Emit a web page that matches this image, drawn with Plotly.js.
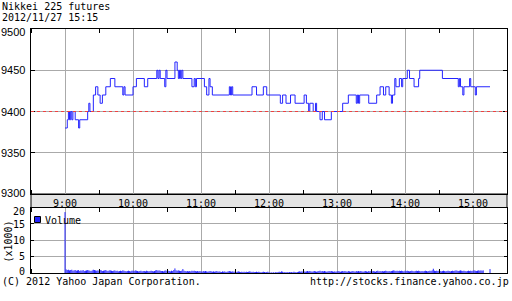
<!DOCTYPE html>
<html><head><meta charset="utf-8">
<script src="https://cdn.plot.ly/plotly-3.0.1.min.js"></script>
<style>html,body{margin:0;padding:0;background:#fff}#chart{width:512px;height:301px}</style>
</head><body><div id="chart"></div>
<script>
const tradeDate = "2012-11-27";
const titleText = "Nikkei 225 futures";
const stampText = "2012/11/27 15:15";

// price change points (step line)
const priceTimes = ["09:00","09:02","09:03","09:04","09:05","09:06","09:07","09:09","09:12","09:13",
 "09:20","09:21","09:22","09:25","09:27","09:29","09:31","09:33","09:36","09:40",
 "09:44","09:51","09:52","09:53","10:00","10:03","10:10","10:13","10:21","10:22",
 "10:23","10:24","10:28","10:29","10:30","10:37","10:39","10:40","10:41","10:42",
 "10:43","10:44","10:52","10:54","10:55","10:56","11:03","11:05","11:07","11:08",
 "11:10","11:25","11:26","11:27","11:28","11:45","11:49","11:55","11:58","12:10",
 "12:12","12:15","12:19","12:23","12:31","12:33","12:35","12:36","12:39","12:41",
 "12:42","12:45","12:47","12:49","12:55","13:05","13:10","13:17","13:18","13:19",
 "13:20","13:28","13:35","13:38","13:41","13:43","13:46","13:48","13:49","13:51",
 "13:52","13:55","13:57","13:58","14:02","14:04","14:08","14:12","14:13","14:33",
 "14:47","14:48","14:49","14:51","14:52","14:57","14:58","15:02","15:03","15:15"];
const prices = [9380,9390,9400,9390,9400,9390,9400,9390,9380,9390,
 9400,9410,9400,9420,9430,9420,9410,9420,9430,9440,
 9430,9420,9430,9420,9430,9440,9430,9440,9450,9440,
 9450,9440,9430,9450,9440,9460,9450,9440,9450,9440,
 9450,9440,9430,9440,9430,9440,9430,9420,9440,9430,
 9420,9430,9420,9430,9420,9430,9420,9430,9420,9410,
 9420,9410,9420,9410,9420,9410,9400,9410,9400,9410,
 9400,9390,9400,9390,9400,9410,9420,9410,9420,9410,
 9420,9410,9420,9430,9420,9430,9420,9410,9420,9440,
 9430,9440,9430,9440,9450,9440,9430,9440,9450,9440,
 9430,9440,9430,9420,9430,9440,9430,9420,9430,9430];
const prevClose = 9400;

// volume (x1000) per minute starting 09:00
const volumes = [
 18.6,1.1,0.9,1.0,0.8,0.9,1.0,0.7,0.8,0.9,
 0.7,0.8,0.9,0.6,0.8,0.7,0.9,0.6,0.7,0.8,
 0.9,0.8,0.7,0.6,0.8,1.0,0.9,0.8,0.7,0.8,
 0.7,0.9,0.8,0.6,0.7,0.8,0.9,0.7,0.6,0.8,
 0.8,0.7,0.6,0.7,0.8,0.6,0.7,0.5,0.6,0.7,
 0.6,0.8,0.7,0.6,0.5,0.6,0.7,0.6,0.5,0.7,
 0.7,0.6,0.8,0.7,0.6,0.5,0.6,0.7,0.5,0.6,
 0.6,0.5,0.7,0.6,0.5,0.6,0.7,0.6,0.5,0.6,
 0.8,0.9,0.7,0.8,0.7,0.6,0.6,0.5,0.7,0.8,
 0.6,0.7,0.6,0.5,0.7,0.6,0.9,1.4,0.8,0.7,
 0.8,0.7,0.6,0.7,1.2,0.7,0.6,0.5,0.6,0.5,
 0.6,0.5,0.7,0.6,0.7,0.6,0.5,0.6,0.5,0.6,
 0.5,0.4,0.6,0.5,0.6,0.5,0.4,0.5,0.6,0.5,
 0.4,0.5,0.4,0.5,0.6,0.4,0.5,0.4,0.3,0.5,
 0.4,0.5,0.3,0.4,0.5,0.6,0.5,0.4,0.5,0.4,
 0.4,0.3,0.4,0.5,0.4,0.3,0.4,0.3,0.4,0.3,
 0.4,0.3,0.4,0.5,0.4,0.3,0.4,0.3,0.3,0.4,
 0.3,0.4,0.3,0.2,0.3,0.4,0.3,0.2,0.3,0.4,
 0.2,0.1,0.2,0.1,0.2,0.1,0.3,0.2,0.3,0.4,
 0.3,0.5,0.4,0.2,0.3,0.2,0.3,0.2,0.3,0.2,
 0.3,0.2,0.4,0.3,0.2,0.3,0.4,0.5,0.4,0.5,
 0.4,0.5,0.4,0.5,0.6,0.5,0.6,0.5,0.4,0.5,
 0.6,0.5,0.4,0.5,0.6,0.7,0.5,0.6,0.5,0.6,
 0.5,0.4,0.5,0.6,0.5,0.6,0.5,0.4,0.5,0.4,
 0.5,0.6,0.5,0.4,0.5,0.6,0.5,0.6,0.5,0.4,
 0.6,0.5,0.4,0.5,0.6,0.5,0.4,0.6,0.5,0.6,
 0.5,0.6,0.5,0.4,0.5,0.6,0.5,0.4,0.6,0.5,
 0.6,0.5,0.6,0.5,0.4,0.6,0.7,0.5,0.6,0.5,
 0.6,0.5,0.6,0.7,0.6,0.5,0.6,0.5,0.6,0.7,
 0.8,0.7,0.6,0.7,0.6,0.7,0.6,0.7,0.6,0.5,
 0.7,0.6,0.7,0.6,0.5,0.6,0.7,0.6,0.5,0.6,
 0.7,0.6,0.7,0.6,0.5,0.6,0.5,0.6,0.7,0.6,
 0.5,0.6,0.7,0.6,0.8,1.3,0.7,0.6,0.7,0.6,
 0.7,0.6,0.5,0.6,0.7,0.6,0.5,0.6,0.7,0.6,
 0.5,0.6,0.7,0.6,0.7,0.8,0.7,0.6,0.7,0.8,
 0.7,0.6,0.7,0.6,0.5,0.6,0.7,0.6,0.7,0.6,
 0.7,0.8,0.7,0.6,0.7,0.8,0.7,0.8,0.7,0.8,
 0,0,0,0,0,1.2];

const hourTicks = ["09:00","10:00","11:00","12:00","13:00","14:00","15:00"];
const hourLabels = ["9:00","10:00","11:00","12:00","13:00","14:00","15:00"];
const halfHourTicks = ["08:30","09:30","10:30","11:30","12:30","13:30","14:30","15:30"];
const xStart = "08:30", xEnd = "15:30";
const priceTicks = [9300,9350,9400,9450,9500];
const priceRange = [9300,9500];
const volumeTicks = [0,5,10,15,20];
const volumeRange = [0,20];

function d(t){ return tradeDate + " " + t; }
function minuteTime(i){
  const tot = 9*60 + i;
  const h = Math.floor(tot/60), m = tot%60;
  return tradeDate + " " + String(h).padStart(2,"0") + ":" + String(m).padStart(2,"0");
}
// vertical stick per minute (built from the volume array)
const volX = [], volY = [];
volumes.forEach((v,i)=>{ if(v>0){ const t=minuteTime(i); volX.push(t,t,null); volY.push(0,v,null);} });

// layout geometry (pixels)
const W=512,H=301,L=31,R=5,T=29,B=28;
const PW=W-L-R, PH=H-T-B;
const py = y => (H-B-y)/PH;   // pixel y -> paper
const px = x => (x-L)/PW;     // pixel x -> paper
const volTop = 207.5, priceBottom = 194;

const mono = "DejaVu Sans Mono";
const blue = "#2424ff";
const grid = "#aaaaaa";

const traces = [
  {type:"scatter", mode:"lines", x:priceTimes.map(d), y:prices, xaxis:"x", yaxis:"y",
   line:{shape:"hv", color:blue, width:1}, hoverinfo:"skip"},
  {type:"scatter", mode:"lines", x:volX, y:volY, xaxis:"x2", yaxis:"y2", connectgaps:false,
   line:{color:blue, width:1}, hoverinfo:"skip"}
];

const xCommon = {
  type:"date", range:[d(xStart), d(xEnd)], tickvals:hourTicks.map(d), ticktext:hourLabels,
  showgrid:true, gridcolor:grid, gridwidth:1, ticks:"", showline:true, linecolor:"#000",
  linewidth:1, mirror:"ticks", zeroline:false, fixedrange:true,
  tickfont:{family:mono, size:10, color:"#000"},
  minor:{tickvals:halfHourTicks.map(d), ticks:"inside", ticklen:4, tickcolor:"#000", tickwidth:1, showgrid:false}
};

const annotations = [
  {text:titleText, xref:"paper", yref:"paper", x:px(0), y:py(6), xanchor:"left", yanchor:"middle",
   showarrow:false, font:{family:mono, size:10, color:"#000"}},
  {text:stampText, xref:"paper", yref:"paper", x:px(0), y:py(17.5), xanchor:"left", yanchor:"middle",
   showarrow:false, font:{family:mono, size:10, color:"#000"}},
  {text:"(C) 2012 Yahoo Japan Corporation.", xref:"paper", yref:"paper", x:px(0), y:py(281.5), xanchor:"left", yanchor:"middle",
   showarrow:false, font:{family:mono, size:10, color:"#000"}},
  {text:"http://stocks.finance.yahoo.co.jp", xref:"paper", yref:"paper", x:px(511), y:py(281.5), xanchor:"right", yanchor:"middle",
   showarrow:false, font:{family:mono, size:10, color:"#000"}},
  {text:"(x1000)", xref:"paper", yref:"paper", x:px(7.5), y:py(242), xanchor:"center", yanchor:"middle", textangle:-90,
   showarrow:false, font:{family:mono, size:10, color:"#000"}},
  {text:"Volume", xref:"paper", yref:"paper", x:px(43), y:py(220.5), xanchor:"left", yanchor:"middle",
   showarrow:false, font:{family:mono, size:10, color:"#000"}}
];
// y-axis tick labels placed at axis values (end labels nudged inside like the reference)
const priceShift = {9500:-3, 9300:1};
priceTicks.forEach(v=>annotations.push({text:String(v), xref:"paper", yref:"y", x:px(27), y:v,
  xanchor:"right", yanchor:"middle", yshift:priceShift[v]||0, showarrow:false,
  font:{family:"Liberation Sans", size:11, color:"#000"}}));
const volShift = {20:-4, 15:-1, 0:2};
volumeTicks.forEach(v=>annotations.push({text:String(v), xref:"paper", yref:"y2", x:px(27), y:v,
  xanchor:"right", yanchor:"middle", yshift:volShift[v]||0, showarrow:false,
  font:{family:mono, size:10, color:"#000"}}));

const layout = {
  width:W, height:H, margin:{l:L,r:R,t:T,b:B}, paper_bgcolor:"#fff", plot_bgcolor:"#fff",
  showlegend:false,
  xaxis:Object.assign({}, xCommon, {anchor:"y", domain:[0,1]}),
  xaxis2:Object.assign({}, xCommon, {anchor:"y2", domain:[0,1], showticklabels:false, matches:"x"}),
  yaxis:{domain:[py(priceBottom),1], range:priceRange, tickvals:priceTicks, showgrid:true, gridcolor:grid,
    ticks:"inside", ticklen:4, tickcolor:"#000", showline:true, linecolor:"#000", mirror:"ticks",
    showticklabels:false, zeroline:false, fixedrange:true},
  yaxis2:{domain:[0,py(volTop)], range:volumeRange, tickvals:volumeTicks, showgrid:true, gridcolor:grid,
    ticks:"inside", ticklen:3, tickcolor:"#000", showline:true, linecolor:"#000", mirror:"ticks",
    showticklabels:false, zeroline:false, fixedrange:true},
  shapes:[
    {type:"rect", xref:"paper", yref:"paper", x0:0, x1:1, y0:py(volTop), y1:py(priceBottom),
     fillcolor:"#e4e4e4", line:{color:"#000", width:1}, layer:"below"},
    {type:"line", xref:"paper", yref:"y", x0:0, x1:1, y0:prevClose, y1:prevClose,
     line:{color:"#f04040", width:1, dash:"3px,3px"}, layer:"above"},
    {type:"rect", xref:"paper", yref:"paper", x0:px(31.5), x1:px(80), y0:py(227), y1:py(213),
     fillcolor:"#fff", line:{width:0}, layer:"between"},
    {type:"rect", xref:"paper", yref:"paper", x0:px(34.5), x1:px(40.5), y0:py(222.5), y1:py(216.5),
     fillcolor:blue, line:{color:"#000", width:1}, layer:"above"}
  ],
  annotations:annotations
};

Plotly.newPlot("chart", traces, layout, {staticPlot:true, displayModeBar:false});
</script>
</body></html>
